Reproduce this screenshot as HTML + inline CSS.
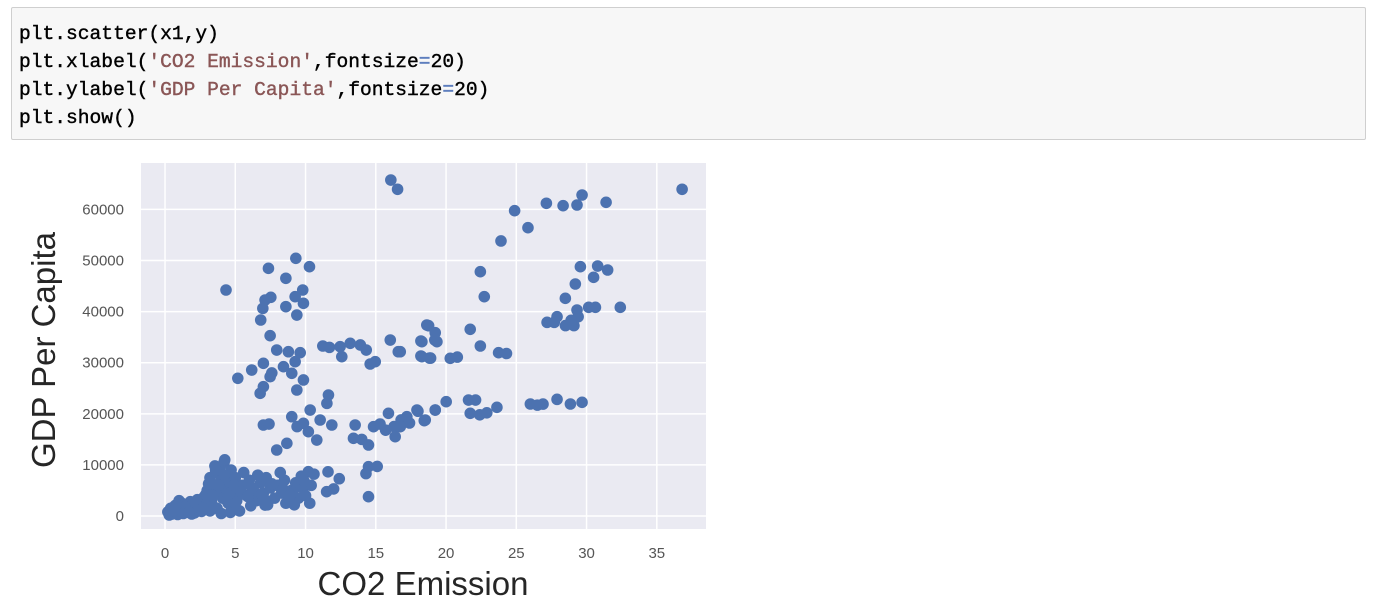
<!DOCTYPE html>
<html><head><meta charset="utf-8">
<style>
body{margin:0;background:#fff;width:1400px;height:616px;overflow:hidden;position:relative;font-family:"Liberation Sans",sans-serif}
#code{position:absolute;left:11px;top:7px;width:1355px;height:133px;background:#f7f7f7;border:1px solid #cfcfcf;border-radius:2px;box-sizing:border-box}
#code pre{margin:0;position:absolute;left:7px;top:12px;font-family:"Liberation Mono",monospace;font-size:19.6px;line-height:28px;color:#000;-webkit-text-stroke:0.4px #000}
.s{color:#8a5656;-webkit-text-stroke:0.4px #8a5656}.o{color:#5577bb;-webkit-text-stroke:0.4px #5577bb}
</style></head><body>
<div id="code"><pre>plt.scatter(x1,y)
plt.xlabel(<span class="s">'CO2 Emission'</span>,fontsize<span class="o">=</span>20)
plt.ylabel(<span class="s">'GDP Per Capita'</span>,fontsize<span class="o">=</span>20)
plt.show()</pre></div>
<svg id="chart" width="1400" height="616" style="position:absolute;left:0;top:0" xmlns="http://www.w3.org/2000/svg"></svg>
<script>
const xTicks=[0,5,10,15,20,25,30,35];
const yTicks=[0,10000,20000,30000,40000,50000,60000];
const xVals=[16.07,16.55,9.31,7.36,10.28,8.6,4.34,7.12,7.53,6.96,6.81,9.8,9.85,9.26,9.38,8.6,7.48,
7.95,8.78,9.62,6.17,7.0,7.48,5.18,8.43,9.26,9.85,9.38,6.77,7.0,9.02,7.6,
11.23,11.7,12.46,13.18,13.9,14.32,12.58,14.6,14.96,16.03,16.6,18.28,18.28,18.9,18.63,19.2,
11.63,11.52,10.33,9.02,9.85,9.4,8.67,7.95,7.0,7.4,10.8,10.2,11.04,11.87,13.53,13.41,14.0,14.48,
14.84,15.3,15.9,16.3,16.8,17.21,17.93,16.38,15.7,17.4,18.52,19.23,
10.2,11.6,12.4,11.5,12.0,14.48,14.48,15.1,14.3,7.12,
36.8,29.68,29.32,28.33,27.14,31.39,24.88,25.83,23.91,22.44,22.72,
29.56,30.79,31.5,30.5,29.2,28.49,32.4,30.15,30.63,29.32,29.4,27.9,27.19,27.7,28.5,29.1,28.9,
18.76,19.23,19.35,18.21,18.21,18.83,20.3,20.8,21.72,22.44,23.74,24.3,16.74,
20.01,21.6,22.1,21.72,22.4,22.9,23.62,19.23,18.45,18.0,26.0,26.5,26.9,27.9,28.85,29.68,16.74,
0.2,0.4,0.5,0.7,0.8,1.0,1.1,1.3,1.5,1.6,1.8,2.0,2.1,2.3,2.5,2.6,2.8,3.0,0.3,0.9,1.2,1.9,2.4,0.6,
3.0,3.2,3.3,3.5,3.6,3.7,3.8,3.9,4.0,4.1,4.2,4.3,4.4,4.5,4.6,4.7,4.8,4.9,5.0,5.1,5.2,3.4,2.9,3.1,4.25,3.55,4.65,5.3,4.0,3.2,
5.5,5.8,6.0,6.3,6.5,6.8,7.0,7.2,7.5,7.8,8.0,8.3,8.5,8.8,9.0,9.3,9.5,9.8,10.0,10.3,6.1,7.3,8.6,9.2,10.4,5.6,6.6,9.7,8.2,10.6,
3.4,3.8,4.2,4.6,3.6,4.4,5.0,3.0,2.6,2.2,1.4,0.8,1.7,2.7,4.9,5.4,6.2,6.9,7.6,8.4,9.1,9.9,5.9,7.1,8.9];
const yVals=[65750,63940,50430,48470,48790,46520,44230,42270,42800,40640,38360,44230,41620,42920,39330,40970,35290,
32480,32150,31960,28570,29880,27260,26950,29220,30200,26620,24660,24010,25310,27930,28000,
33270,33000,33140,33800,33470,32480,31180,29750,30200,34440,32150,34110,31180,30900,37380,34440,
23680,22050,20740,19430,18140,17500,14230,12920,17810,18000,14870,16500,18790,17810,17810,15210,15000,13900,
17480,18000,20100,17500,18800,19430,20740,15520,16800,18200,18790,20740,
8670,8650,7300,4760,5300,3780,9650,9700,8300,2150,
63940,62820,60860,60730,61200,61390,59750,56420,53820,47810,42920,
48790,48920,48140,46710,45400,42600,40840,40840,40840,40310,39000,39000,37900,37900,37260,37260,38300,
37240,35870,34110,34250,31310,30900,30860,31100,36540,33270,31960,31800,32150,
22370,22700,22700,20100,19800,20200,21270,20740,18660,20500,21920,21700,21900,22830,21920,22250,17480,
800,1500,400,2000,900,3000,1200,500,2200,1000,2800,1500,600,3200,2000,900,3800,2500,200,300,2500,400,1200,1100,
5000,7500,3000,6000,8500,1500,4500,9500,7000,3500,10500,5500,8000,2500,6500,9000,4000,1500,7500,3000,5500,2000,4200,6300,11000,9800,700,1000,500,1000,
6000,4000,7000,5000,3000,6500,4500,7500,5500,3500,6000,4500,7000,3000,5000,6500,3500,5500,4000,2500,2000,2200,2500,2200,6000,8500,8000,7800,8500,8200,
4000,6000,8000,4500,9000,3000,2500,1800,1200,2600,1800,2200,700,1500,6000,4800,5500,4200,6300,5300,4600,6800,3800,3200,4100];
const NS="http://www.w3.org/2000/svg";
const svg=document.getElementById('chart');
const L=141,R=706,T=163,B=529;
const xMin=-1.71,xMax=38.5,yMin=-2540,yMax=69080;
const sx=v=>L+(v-xMin)/(xMax-xMin)*(R-L);
const sy=v=>B-(v-yMin)/(yMax-yMin)*(B-T);
function mk(tag,attrs){const e=document.createElementNS(NS,tag);for(const k in attrs)e.setAttribute(k,attrs[k]);svg.appendChild(e);return e;}
let bg=mk('rect',{x:L,y:T,width:R-L,height:B-T,fill:'#eaeaf2'});


xTicks.forEach(t=>{
  const g=mk('line',{x1:sx(t),x2:sx(t),y1:T,y2:B,stroke:'#fff','stroke-width':1.5});
  
  
  const tx=mk('text',{x:sx(t),y:558,'text-anchor':'middle','font-size':15,fill:'#555','font-family':'Liberation Sans, sans-serif'});
  tx.textContent=t;
  
  
});
yTicks.forEach(t=>{
  const g=mk('line',{x1:L,x2:R,y1:sy(t),y2:sy(t),stroke:'#fff','stroke-width':1.5});
  
  
  const tx=mk('text',{x:124,y:sy(t)+5,'text-anchor':'end','font-size':15,fill:'#555','font-family':'Liberation Sans, sans-serif'});
  tx.textContent=t;
  
  
});
for(let i=0;i<xVals.length;i++){
  const c=mk('circle',{cx:sx(xVals[i]),cy:sy(yVals[i]),r:5.8,fill:'#4c72b0'});
  
  
}
const xl=mk('text',{x:423,y:595,'text-anchor':'middle','font-size':33,fill:'#262626','font-family':'Liberation Sans, sans-serif'});
xl.textContent='CO2 Emission';


const yl=mk('text',{x:0,y:0,'text-anchor':'middle','font-size':33,fill:'#262626','font-family':'Liberation Sans, sans-serif',transform:'translate(55,350) rotate(-90)'});
yl.textContent='GDP Per Capita';


</script>
</body></html>
